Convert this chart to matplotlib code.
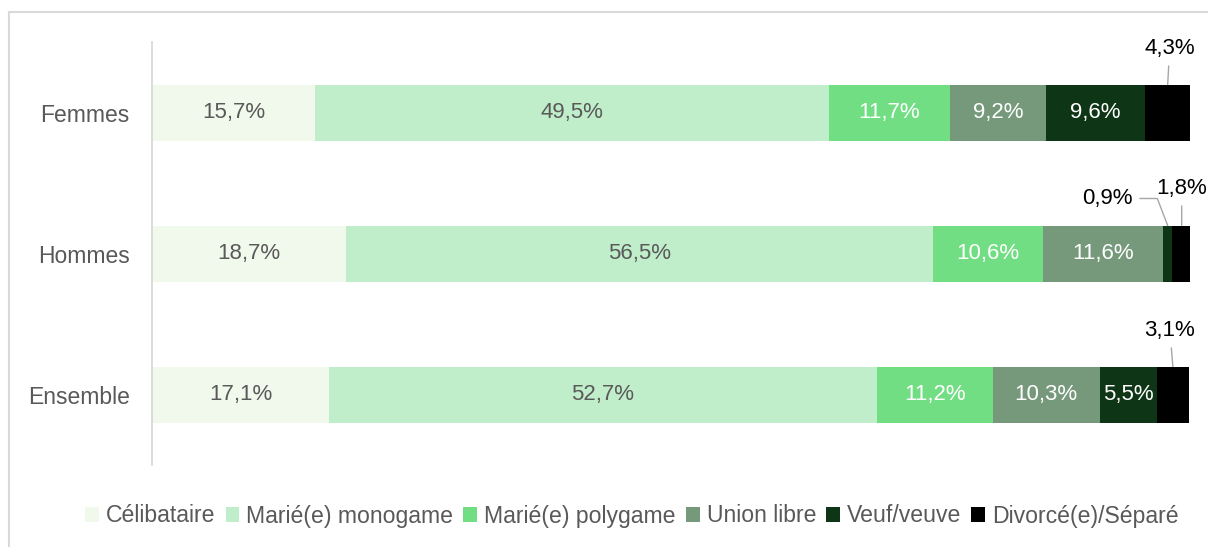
import matplotlib.pyplot as plt
import numpy as np
from matplotlib.lines import Line2D

plt.rcParams['font.family'] = ['Liberation Sans', 'DejaVu Sans']

groups = ['Femmes', 'Hommes', 'Ensemble']
categories = ['Célibataire', 'Marié(e) monogame', 'Marié(e) polygame',
              'Union libre', 'Veuf/veuve', 'Divorcé(e)/Séparé']
values = [
    [15.7, 18.7, 17.1],   # Célibataire
    [49.5, 56.5, 52.7],   # Marié(e) monogame
    [11.7, 10.6, 11.2],   # Marié(e) polygame
    [9.2, 11.6, 10.3],    # Union libre
    [9.6, 0.9, 5.5],      # Veuf/veuve
    [4.3, 1.8, 3.1],      # Divorcé(e)/Séparé
]
colors = ['#F1F8EC', '#C1EECA', '#72DE84', '#76997C', '#0E3515', '#000000']
label_colors = ['#595959', '#595959', 'white', 'white', 'white', 'white']

# labels drawn outside the bar: (series, group) -> offset in pixels, connector angle
outside = {(5, 0): ((2, 36), None),
           (4, 1): ((-60, 27), 111),
           (5, 1): ((0, 37), None),
           (5, 2): ((-3, 36), None)}

fig = plt.figure(figsize=(12.08, 5.47), dpi=100)
ax = fig.add_axes([152 / 1208, 82 / 547, 1038 / 1208, 423 / 547])

y = np.arange(len(groups))
left = np.zeros(len(groups))
bar_h = 56 / 141
for i, (cat, vals) in enumerate(zip(categories, values)):
    vals = np.array(vals)
    ax.barh(y, vals, left=left, height=bar_h, color=colors[i], label=cat)
    for j, v in enumerate(vals):
        txt = '{:.1f}%'.format(v).replace('.', ',')
        cx = left[j] + v / 2
        if (i, j) in outside:
            off, ang = outside[(i, j)]
            if ang is None:
                cs = 'arc3'
            else:
                cs = 'angle,angleA=0,angleB={},rad=0'.format(ang)
            ax.annotate(txt, xy=(cx, y[j] - bar_h / 2), xytext=off,
                        textcoords='offset pixels', ha='center', va='center',
                        fontsize=16, color='black',
                        arrowprops=dict(arrowstyle='-', color='#A6A6A6', lw=1,
                                        shrinkA=3, shrinkB=0,
                                        connectionstyle=cs))
        else:
            ax.text(cx, y[j], txt, ha='center', va='center', fontsize=16,
                    color=label_colors[i])
    left += vals

ax.set_xlim(0, 100)
ax.set_ylim(2.5, -0.5)
ax.set_yticks(y)
ax.set_yticklabels(groups, fontsize=16.5, color='#595959')
ax.tick_params(axis='y', length=0, pad=16)
ax.set_xticks([])
for s in ['top', 'right', 'bottom']:
    ax.spines[s].set_visible(False)
ax.spines['left'].set_color('#D9D9D9')
ax.spines['left'].set_linewidth(1.3)

leg = fig.legend(loc='center', bbox_to_anchor=(632 / 1208, 1 - 516 / 547), ncol=6,
                 frameon=False, fontsize=16.6, handlelength=0.6, handleheight=0.6,
                 handletextpad=0.3, columnspacing=0.44, borderaxespad=0)
for t in leg.get_texts():
    t.set_color('#595959')

# chart frame
fig.add_artist(Line2D([9 / 1208, 1], [1 - 12 / 547, 1 - 12 / 547],
                      color='#D9D9D9', lw=1.5, transform=fig.transFigure))
fig.add_artist(Line2D([9 / 1208, 9 / 1208], [0, 1 - 12 / 547],
                      color='#D9D9D9', lw=1.5, transform=fig.transFigure))

fig.savefig('out.png', dpi=100)
